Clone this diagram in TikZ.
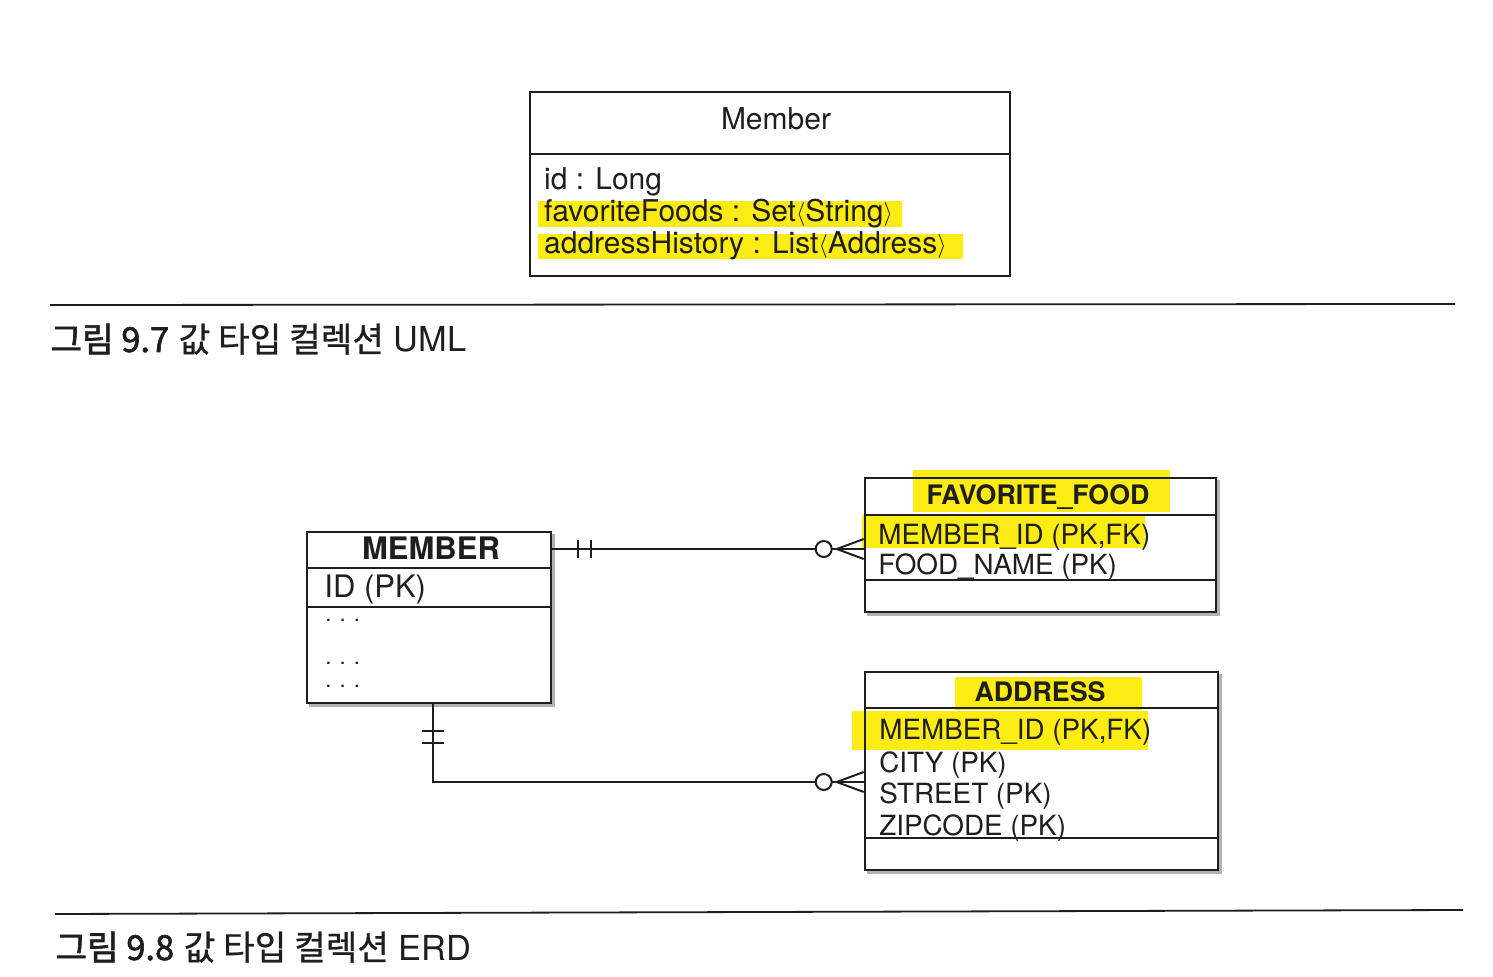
\documentclass[tikz,border=0pt]{standalone}
\usepackage{fontspec}
\setmainfont{TeX Gyre Heros}
\newfontfamily\krfont[FakeBold=0.7]{Noto Sans CJK KR}
\newfontfamily\krbold[FakeBold=1.8]{Noto Sans CJK KR}
\usetikzlibrary{calc,backgrounds}
\definecolor{ink}{RGB}{30,30,30}
\definecolor{marker}{RGB}{252,236,20}
\newcommand{\lbr}{{\fontsize{12.5}{12}\selectfont\raisebox{0.8pt}{$\langle$}}}
\newcommand{\rbr}{{\fontsize{12.5}{12}\selectfont\raisebox{0.8pt}{$\rangle$}}}

\begin{document}
\begin{tikzpicture}[x=0.5pt, y=-0.5pt, color=ink, text=ink]
\useasboundingbox (0,0) rectangle (1493,977);

% UML class
\begin{scope}[rectangle, line width=1.2pt, inner sep=0pt, font=\fontsize{15}{18}\selectfont]
  \node[draw, minimum width=240pt, minimum height=92pt] (UML_box) at (770,184) {};
  \node[anchor=base]      (UML_name) at (776,130) {Member};
  \node[anchor=base west] (UML_id)   at (543,190) {id : Long};
  \node[anchor=base west] (UML_food) at (543,222) {favoriteFoods : Set\lbr String\rbr};
  \node[anchor=base west] (UML_addr) at (543,254) {addressHistory : List\lbr Address\rbr};
  \draw (UML_box.west |- 0,154) -- (UML_box.east |- 0,154);
\end{scope}

\draw[line width=0.9pt] (50,305) -- (1455,304);
\node[anchor=base west, inner sep=0pt, font=\fontsize{17.2}{20}\selectfont] (CAP_uml) at (50,352)
  {{\krbold 그림 9.7} {\krfont 값 타입 컬렉션} UML};

% ERD tables
\begin{scope}[rectangle, line width=1.3pt, inner sep=0pt]
  \node[draw, minimum width=122pt,   minimum height=85.5pt] (MB_box) at (429,617.5) {};
  \node[draw, minimum width=175.5pt, minimum height=67pt]   (FF_box) at (1040.5,545) {};
  \node[draw, minimum width=176.5pt, minimum height=99pt]   (AD_box) at (1041.5,771) {};
  \draw (MB_box.west |- 0,568) -- (MB_box.east |- 0,568);
  \draw (MB_box.west |- 0,607) -- (MB_box.east |- 0,607);
  \draw (FF_box.west |- 0,515) -- (FF_box.east |- 0,515);
  \draw (FF_box.west |- 0,580) -- (FF_box.east |- 0,580);
  \draw (AD_box.west |- 0,708) -- (AD_box.east |- 0,708);
  \draw (AD_box.west |- 0,838) -- (AD_box.east |- 0,838);
\end{scope}

\begin{scope}[inner sep=0pt, font=\fontsize{15.5}{18}\selectfont]
  \node[anchor=base, font=\bfseries\fontsize{15.5}{18}\selectfont] (MB_head) at (431,560) {MEMBER};
  \node[anchor=base west] (MB_id)   at (324,598) {ID (PK)};
  \node[anchor=base west, font=\fontsize{11}{12}\selectfont] (MB_dot1) at (325,622) {. . .};
  \node[anchor=base west, font=\fontsize{11}{12}\selectfont] (MB_dot2) at (325,665) {. . .};
  \node[anchor=base west, font=\fontsize{11}{12}\selectfont] (MB_dot3) at (325,688) {. . .};
\end{scope}

\begin{scope}[inner sep=0pt, font=\fontsize{13.9}{16}\selectfont]
  \node[anchor=base, font=\bfseries\fontsize{13.4}{16}\selectfont] (FF_head) at (1038,505) {FAVORITE\_FOOD};
  \node[anchor=base west] (FF_mid)  at (878,545) {MEMBER\_ID (PK,FK)};
  \node[anchor=base west] (FF_food) at (878,575) {FOOD\_NAME (PK)};
  \node[anchor=base, font=\bfseries\fontsize{13.4}{16}\selectfont] (AD_head) at (1040,702) {ADDRESS};
  \node[anchor=base west] (AD_mid)  at (879,740) {MEMBER\_ID (PK,FK)};
  \node[anchor=base west] (AD_city) at (879,772) {CITY (PK)};
  \node[anchor=base west] (AD_st)   at (879,803) {STREET (PK)};
  \node[anchor=base west] (AD_zip)  at (879,835) {ZIPCODE (PK)};
\end{scope}

% shadows and marker pen
\begin{scope}[on background layer]
  \foreach \t in {MB_box, FF_box, AD_box} {
    \fill[black!30] ($(\t.south west)+(3,3)$) rectangle ($(\t.north east)+(3,3)$);
    \fill[white] (\t.south west) rectangle (\t.north east);
  }
  \fill[marker] (538,201) rectangle (902,227);
  \fill[marker] (538,234) rectangle (963,259);
  \fill[marker] (913,470) rectangle (1170,512);
  \fill[marker] (862,515) rectangle (1145,548);
  \fill[marker] (955,677) rectangle (1142,710);
  \fill[marker] (852,711) rectangle (1148,750);
\end{scope}

% relations
\begin{scope}[line width=1pt]
  \coordinate (FF_in)  at ($(FF_box.west)+(0,4)$);
  \coordinate (AD_in)  at ($(AD_box.west)+(0,11)$);
  \coordinate (MB_out) at ($(MB_box.south)+(4,0)$);
  \coordinate (MB_rt)  at (MB_box.east |- FF_in);
  \draw (MB_rt) -- (FF_in);
  \draw (MB_out) |- (AD_in);

  \draw ($(MB_rt)+(26,-9)$) -- ($(MB_rt)+(26,9)$);
  \draw ($(MB_rt)+(39,-9)$) -- ($(MB_rt)+(39,9)$);
  \draw ($(MB_out)+(-11,27)$) -- ($(MB_out)+(11,27)$);
  \draw ($(MB_out)+(-11,39)$) -- ($(MB_out)+(11,39)$);

  \foreach \e in {FF_in, AD_in} {
    \draw[fill=white] ($(\e)+(-40,0)$) circle[radius=4pt];
    \draw ($(\e)+(0,-10)$) -- ($(\e)+(-27,0)$) -- ($(\e)+(0,10)$);
  }
\end{scope}

\draw[line width=0.9pt] (55,914) -- (1463,910);
\node[anchor=base west, inner sep=0pt, font=\fontsize{17.2}{20}\selectfont] (CAP_erd) at (55,960)
  {{\krbold 그림 9.8} {\krfont 값 타입 컬렉션} ERD};

\end{tikzpicture}
\end{document}
